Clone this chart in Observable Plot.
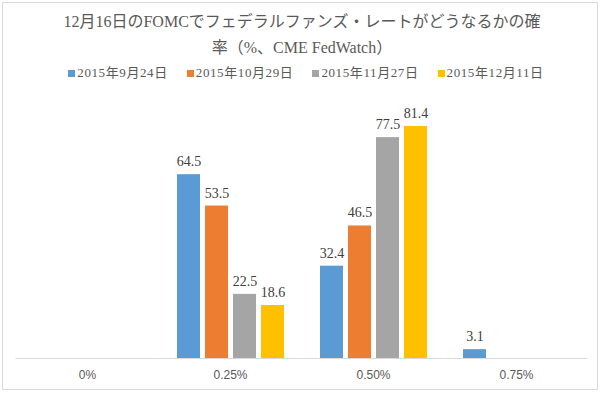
<!DOCTYPE html>
<html>
<head>
<meta charset="utf-8">
<script src="https://cdn.jsdelivr.net/npm/d3@7"></script>
<script src="https://cdn.jsdelivr.net/npm/@observablehq/plot@0.6"></script>
<style>
  html, body { margin: 0; padding: 0; background: #fff; }
  #wrap { position: relative; width: 604px; height: 394px; overflow: hidden; background: #fff; }
  #frame { position: absolute; left: 2px; top: 2px; width: 596px; height: 388px; border: 1px solid #d9d9d9; box-sizing: border-box; }
  #title { position: absolute; left: 0; top: 9px; width: 604px; text-align: center; font-family: "Liberation Serif", "Noto Sans CJK JP", serif; font-size: 16px; line-height: 26px; color: #595959; }
  #legend { position: absolute; left: 0; top: 64px; width: 612px; display: flex; justify-content: center; gap: 19px; font-family: "Liberation Serif", "Noto Sans CJK JP", serif; font-size: 13px; letter-spacing: 0.6px; line-height: 18px; color: #595959; }
  #legend .item { display: flex; align-items: center; }
  #legend .sw { width: 7px; height: 7px; margin-right: 2px; }
  #plot { position: absolute; left: 0; top: 90px; }
</style>
</head>
<body>
<div id="wrap">
  <div id="frame"></div>
  <div id="title">12月16日のFOMCでフェデラルファンズ・レートがどうなるかの確<br>率（%、CME FedWatch）</div>
  <div id="legend"></div>
  <div id="plot"></div>
</div>
<script>
const categories = ["0%", "0.25%", "0.50%", "0.75%"];
const series = ["2015年9月24日", "2015年10月29日", "2015年11月27日", "2015年12月11日"];
const sep24 = [null, 64.5, 32.4, 3.1];
const oct29 = [null, 53.5, 46.5, null];
const nov27 = [null, 22.5, 77.5, null];
const dec11 = [null, 18.6, 81.4, null];
const colors = ["#5b9bd5", "#ed7d31", "#a5a5a5", "#ffc000"];

const seriesValues = [sep24, oct29, nov27, dec11];
const rows = [];
categories.forEach((c, i) => {
  series.forEach((s, j) => {
    rows.push({cat: c, series: s, value: seriesValues[j][i]});
  });
});

const legend = document.getElementById("legend");
series.forEach((s, j) => {
  const it = document.createElement("div");
  it.className = "item";
  const sw = document.createElement("span");
  sw.className = "sw";
  sw.style.background = colors[j];
  const t = document.createElement("span");
  t.textContent = s;
  it.appendChild(sw);
  it.appendChild(t);
  legend.appendChild(it);
});

const chart = Plot.plot({
  width: 604,
  height: 304,
  marginLeft: 15,
  marginRight: 17,
  marginTop: 11.5,
  marginBottom: 36,
  facet: {data: rows, x: "cat"},
  fx: {
    domain: categories,
    paddingInner: 0.245,
    paddingOuter: 0.1225,
    axis: "bottom",
    label: null,
    tickSize: 0,
    tickPadding: 12
  },
  x: {domain: series, axis: null, paddingInner: 0.19, paddingOuter: 0},
  y: {domain: [0, 90], axis: null},
  color: {domain: series, range: colors},
  style: {fontFamily: "'Liberation Sans', 'Noto Sans', sans-serif", fontSize: "12px", color: "#595959", background: "transparent"},
  marks: [
    Plot.ruleY([0], {stroke: "#d9d9d9", insetLeft: -17.5, insetRight: -17.5}),
    Plot.barY(rows, {x: "series", y: "value", fill: "series", filter: d => d.value != null}),
    Plot.text(rows, {
      x: "series",
      y: "value",
      filter: d => d.value != null,
      text: d => (d.value == null ? null : d.value.toFixed(1)),
      dy: -13,
      fill: "#404040",
      fontSize: 14,
      fontFamily: "'Liberation Serif', serif"
    })
  ]
});
document.getElementById("plot").appendChild(chart);
</script>
</body>
</html>
